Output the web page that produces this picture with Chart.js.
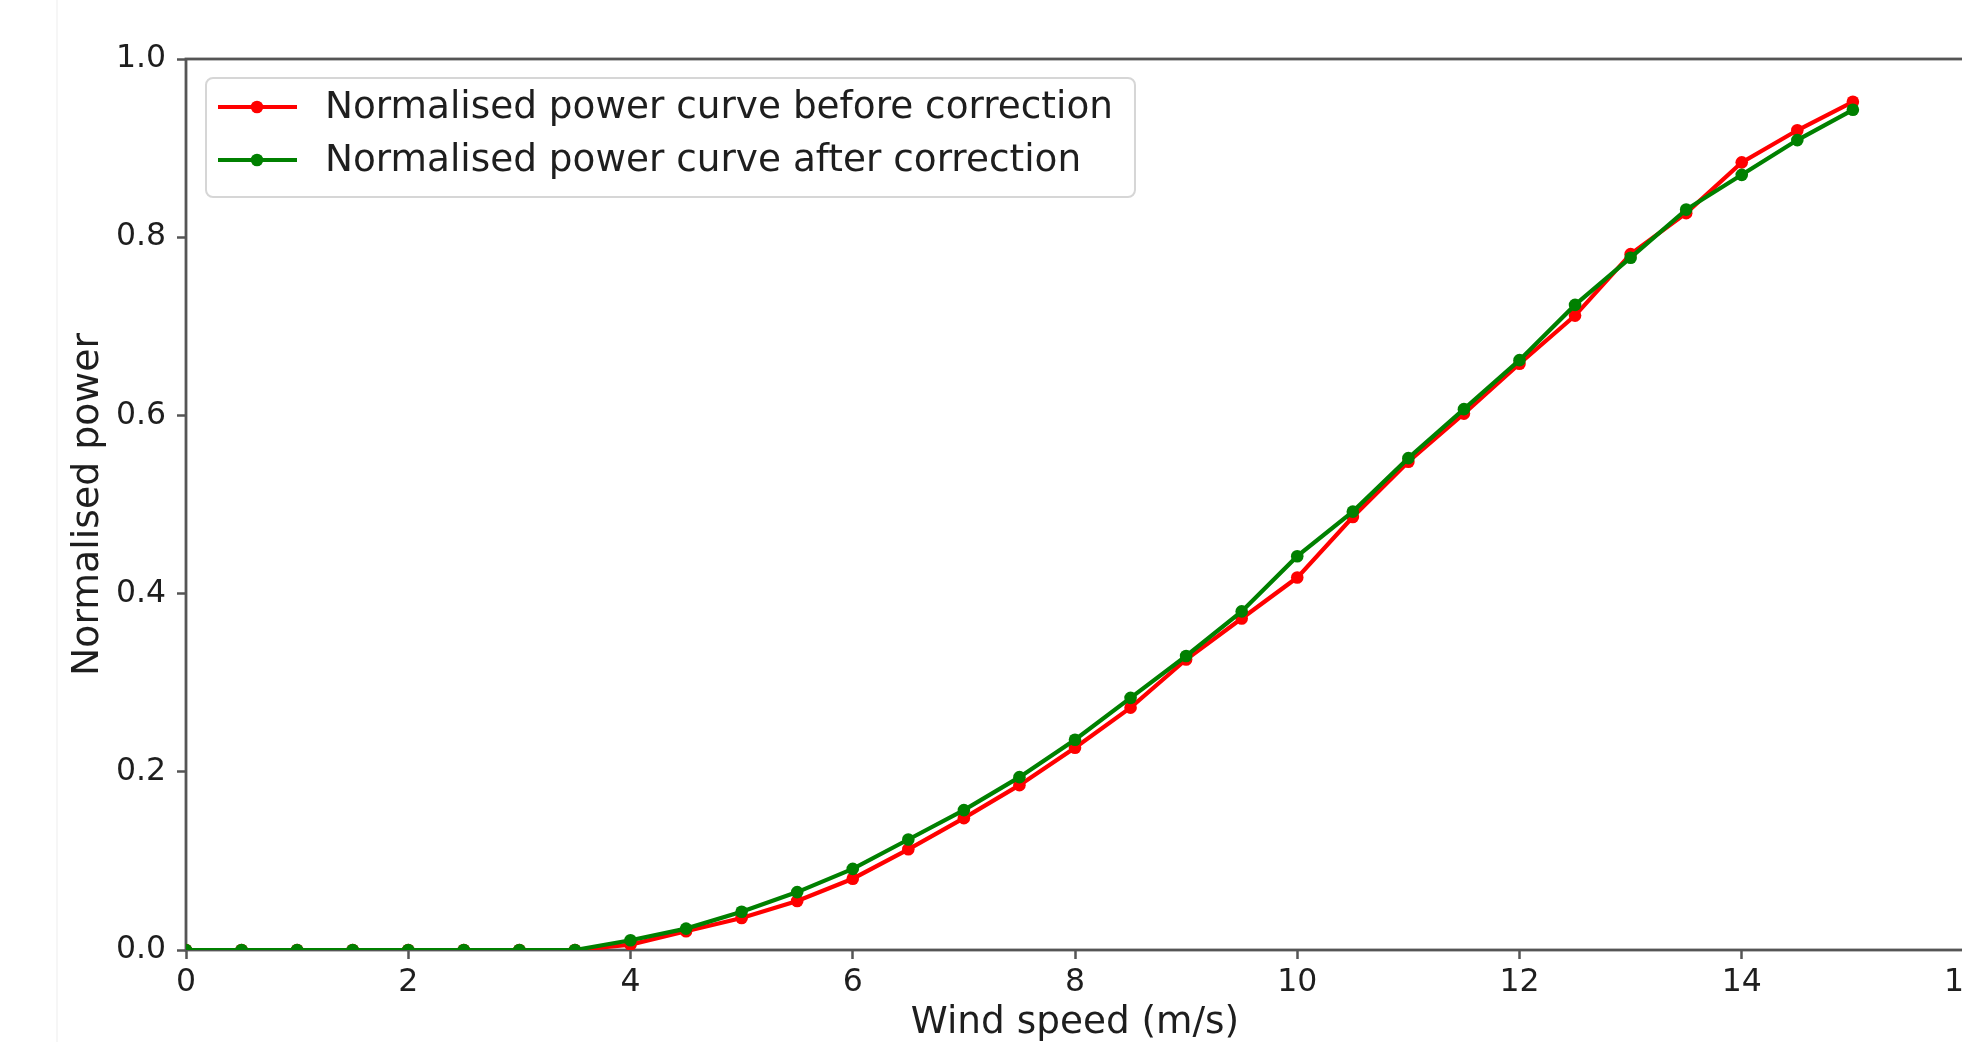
<!DOCTYPE html>
<html>
<head>
<meta charset="utf-8">
<script src="https://cdn.jsdelivr.net/npm/chart.js@4.4.1/dist/chart.umd.min.js"></script>
<style>
  html, body { margin: 0; padding: 0; background: #fff; overflow: hidden; }
  canvas { display: block; }
</style>
</head>
<body>
<canvas id="powerCurve" width="2000" height="1042"></canvas>
<script>
// Данные: скорость ветра и нормированная мощность
const windSpeed = [0, 0.5, 1, 1.5, 2, 2.5, 3, 3.5, 4, 4.5, 5, 5.5, 6, 6.5, 7, 7.5,
  8, 8.5, 9, 9.5, 10, 10.5, 11, 11.5, 12, 12.5, 13, 13.5, 14, 14.5, 15];
const powerBefore = [0, 0, 0, 0, 0, 0, 0, 0, 0.006, 0.021, 0.036, 0.055, 0.080, 0.113,
  0.148, 0.185, 0.227, 0.272, 0.326, 0.372, 0.418, 0.486, 0.548, 0.602, 0.658, 0.712,
  0.781, 0.827, 0.884, 0.920, 0.952];
const powerAfter = [0, 0, 0, 0, 0, 0, 0, 0, 0.011, 0.024, 0.043, 0.065, 0.091, 0.124,
  0.157, 0.194, 0.236, 0.283, 0.330, 0.380, 0.442, 0.492, 0.552, 0.607, 0.662, 0.724,
  0.777, 0.831, 0.870, 0.909, 0.943];
const seriesLabels = ['Normalised power curve before correction', 'Normalised power curve after correction'];
const xTitle = 'Wind speed (m/s)';
const yTitle = 'Normalised power';

const FONT = 'DejaVu Sans';
const AXIS_COLOR = '#555';
const TEXT_COLOR = '#1e1e1e';

// Фон и рамка осей (как spines в matplotlib)
const framePlugin = {
  id: 'frame',
  beforeDraw: (chart) => {
    const ctx = chart.ctx;
    ctx.save();
    ctx.fillStyle = '#fff';
    ctx.fillRect(0, 0, chart.width, chart.height);
    // едва заметный край слева
    ctx.strokeStyle = '#f3f3f3';
    ctx.lineWidth = 1.5;
    ctx.beginPath();
    ctx.moveTo(57, 0);
    ctx.lineTo(57, chart.height);
    ctx.stroke();
    ctx.restore();
  },
  beforeDatasetsDraw: (chart) => {
    const ctx = chart.ctx;
    const a = chart.chartArea;
    ctx.save();
    ctx.strokeStyle = AXIS_COLOR;
    ctx.lineWidth = 2.8;
    ctx.strokeRect(a.left, a.top, a.right - a.left, a.bottom - a.top);
    ctx.restore();
  }
};

// Легенда внутри области графика, в стиле matplotlib
const boxLegendPlugin = {
  id: 'boxLegend',
  afterDatasetsDraw: (chart) => {
    const ctx = chart.ctx;
    const a = chart.chartArea;
    const sets = chart.data.datasets;
    ctx.save();
    ctx.font = '37.4px "' + FONT + '"';
    const boxX = a.left + 20;
    const boxY = a.top + 19;
    const textX = boxX + 119;
    const rowH = 53;
    let maxW = 0;
    sets.forEach(ds => { maxW = Math.max(maxW, ctx.measureText(ds.label).width); });
    const boxW = textX - boxX + maxW + 22;
    const boxH = 119;

    ctx.beginPath();
    ctx.roundRect(boxX, boxY, boxW, boxH, 7);
    ctx.fillStyle = 'rgba(255,255,255,0.8)';
    ctx.fill();
    ctx.strokeStyle = '#d6d6d6';
    ctx.lineWidth = 2;
    ctx.stroke();

    sets.forEach((ds, i) => {
      const y = boxY + 29 + i * rowH;
      ctx.strokeStyle = ds.borderColor;
      ctx.lineWidth = ds.borderWidth;
      ctx.beginPath();
      ctx.moveTo(boxX + 12, y);
      ctx.lineTo(boxX + 91, y);
      ctx.stroke();
      ctx.fillStyle = ds.pointBackgroundColor;
      ctx.beginPath();
      ctx.arc(boxX + 51, y, ds.pointRadius, 0, Math.PI * 2);
      ctx.fill();
      ctx.fillStyle = TEXT_COLOR;
      ctx.textAlign = 'left';
      ctx.textBaseline = 'middle';
      ctx.fillText(ds.label, textX, y + 1);
    });
    ctx.restore();
  }
};

const toPoints = (ys) => windSpeed.map((x, i) => ({ x: x, y: ys[i] }));

new Chart(document.getElementById('powerCurve'), {
  type: 'line',
  data: {
    datasets: [
      {
        label: seriesLabels[0],
        data: toPoints(powerBefore),
        borderColor: '#ff0000',
        backgroundColor: '#ff0000',
        pointBackgroundColor: '#ff0000',
        borderWidth: 4.2,
        pointRadius: 6.3,
        pointBorderWidth: 0,
        tension: 0,
        clip: 0,
        order: 1
      },
      {
        label: seriesLabels[1],
        data: toPoints(powerAfter),
        borderColor: '#008000',
        backgroundColor: '#008000',
        pointBackgroundColor: '#008000',
        borderWidth: 4.2,
        pointRadius: 6.3,
        pointBorderWidth: 0,
        tension: 0,
        clip: 0,
        order: 0 // зелёная линия поверх красной
      }
    ]
  },
  options: {
    responsive: false,
    animation: false,
    layout: { padding: { top: 59, right: 36, left: 0, bottom: 0 } },
    plugins: {
      legend: { display: false },
      tooltip: { enabled: false }
    },
    scales: {
      x: {
        type: 'linear',
        min: 0,
        max: 16,
        border: { display: false },
        grid: { drawOnChartArea: false, drawTicks: true, tickLength: 9, tickColor: AXIS_COLOR, tickWidth: 2.5 },
        ticks: { stepSize: 2, color: TEXT_COLOR, padding: 5, maxRotation: 0, font: { family: FONT, size: 31.5 } },
        title: { display: true, text: xTitle, color: TEXT_COLOR, padding: 0, font: { family: FONT, size: 37.4, lineHeight: 1 } },
        afterFit: (scale) => {
          scale.height = 92;
          scale.paddingLeft = 0;
          scale.paddingRight = 0;
        }
      },
      y: {
        min: 0,
        max: 1,
        border: { display: false },
        grid: { drawOnChartArea: false, drawTicks: true, tickLength: 9, tickColor: AXIS_COLOR, tickWidth: 2.5 },
        ticks: { stepSize: 0.2, color: TEXT_COLOR, padding: 11, font: { family: FONT, size: 31.5 },
          callback: (v) => v.toFixed(1) },
        title: { display: true, text: yTitle, color: TEXT_COLOR, padding: { top: 69, bottom: 0 }, font: { family: FONT, size: 37.8, lineHeight: 1 } },
        afterFit: (scale) => {
          scale.width = 186;
          scale.paddingTop = 0;
          scale.paddingBottom = 0;
        }
      }
    }
  },
  plugins: [framePlugin, boxLegendPlugin]
});
</script>
</body>
</html>
